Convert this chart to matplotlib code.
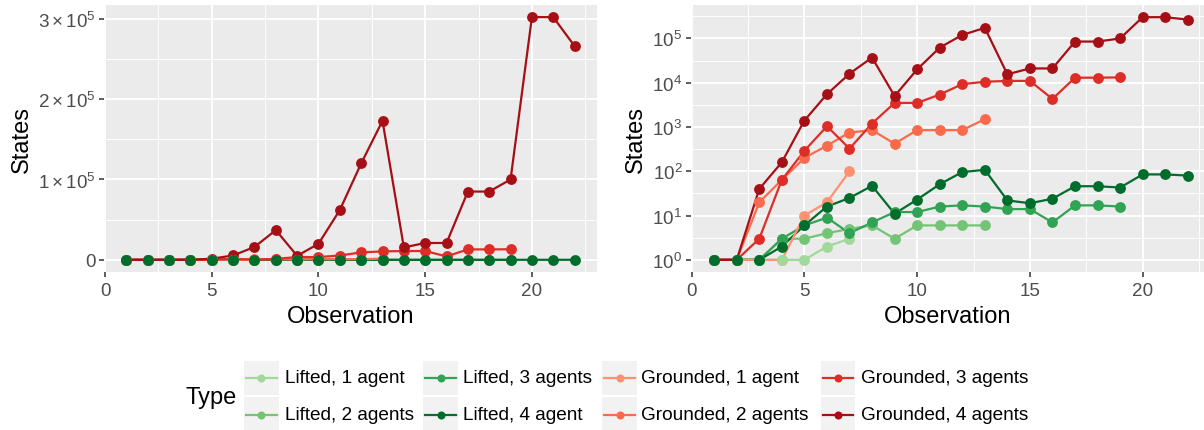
import numpy as np
import matplotlib
matplotlib.use("Agg")
import matplotlib.pyplot as plt
from matplotlib.lines import Line2D
from matplotlib.patches import Rectangle
from matplotlib.ticker import FixedLocator, FixedFormatter

plt.rcParams["font.family"] = ["Liberation Sans", "DejaVu Sans"]
plt.rcParams["mathtext.fontset"] = "custom"
plt.rcParams["mathtext.rm"] = "Liberation Sans"
plt.rcParams["mathtext.it"] = "Liberation Sans:italic"
plt.rcParams["mathtext.bf"] = "Liberation Sans:bold"

# ── Data ───────────────────────────────────────────────────────────────────────
labels = ["Lifted, 1 agent", "Lifted, 2 agents", "Lifted, 3 agents", "Lifted, 4 agent",
          "Grounded, 1 agent", "Grounded, 2 agents", "Grounded, 3 agents", "Grounded, 4 agents"]
colors = ["#A1D99B", "#74C476", "#31A354", "#006D2C",
          "#FC9272", "#FB6A4A", "#DE2D26", "#A50F15"]

lifted_1 = [1, 1, 1, 1, 1, 2, 3]
lifted_2 = [1, 1, 1, 3, 3, 4, 5, 6, 3, 6, 6, 6, 6]
lifted_3 = [1, 1, 1, 3, 6, 9, 4, 7, 12, 12, 16, 17, 16, 14, 14, 7, 17, 17, 16]
lifted_4 = [1, 1, 1, 2, 6, 16, 25, 47, 11, 23, 51, 96, 108, 22, 19, 24, 46, 46, 43, 85, 85, 80]
grounded_1 = [1, 1, 1, 1, 10, 20, 100]
grounded_2 = [1, 1, 20, 64, 200, 380, 750, 850, 420, 850, 850, 850, 1500]
grounded_3 = [1, 1, 3, 64, 290, 1040, 325, 1200, 3500, 3500, 5400, 9300, 10500,
              11000, 11000, 4300, 13000, 13000, 13200]
grounded_4 = [1, 1, 40, 160, 1400, 5500, 16000, 37000, 5000, 20000, 62000, 120000,
              173000, 15500, 21000, 21000, 85000, 85000, 100000, 302000, 302000, 266000]

series = [lifted_1, lifted_2, lifted_3, lifted_4,
          grounded_1, grounded_2, grounded_3, grounded_4]

W, H = 1204, 431
BG = "#EBEBEB"


def px_axes(fig, x0, y0, x1, y1):
    """Axes from pixel box (y measured from top)."""
    return fig.add_axes([x0 / W, 1 - y1 / H, (x1 - x0) / W, (y1 - y0) / H])


def style_axes(ax):
    ax.set_facecolor(BG)
    for s in ax.spines.values():
        s.set_visible(False)
    ax.grid(which="major", color="white", linewidth=1.3)
    ax.grid(which="minor", color="white", linewidth=0.65)
    ax.set_axisbelow(True)
    ax.tick_params(which="major", length=3.3, width=1.1, color="#333333",
                   labelsize=13.6, labelcolor="#4D4D4D", pad=2.5)
    ax.tick_params(axis="x", which="major", pad=3.8)
    ax.tick_params(which="minor", length=0)
    ax.set_xlabel("Observation", fontsize=17, labelpad=4.5)
    ax.set_ylabel("States", fontsize=17, labelpad=4)
    ax.xaxis.set_major_locator(FixedLocator([0, 5, 10, 15, 20]))
    ax.xaxis.set_minor_locator(FixedLocator([2.5, 7.5, 12.5, 17.5, 22.5]))


def draw_series(ax):
    # lines first (lifted then grounded), points after (grounded then lifted)
    for i, (vals, c) in enumerate(zip(series, colors)):
        x = np.arange(1, len(vals) + 1)
        ax.plot(x, vals, color=c, linewidth=1.6, zorder=2 + i * 0.01)
    order = [4, 5, 6, 7, 0, 1, 2, 3]
    for k, i in enumerate(order):
        vals = series[i]
        x = np.arange(1, len(vals) + 1)
        ax.plot(x, vals, linestyle="none", marker="o", markersize=7.8,
                markerfacecolor=colors[i], markeredgewidth=0, zorder=3 + k * 0.01)


fig = plt.figure(figsize=(W / 100, H / 100), dpi=100)

# ── Left: linear scale ─────────────────────────────────────────────────────────
ax1 = px_axes(fig, 104, 6, 597, 273)
style_axes(ax1)
draw_series(ax1)
ax1.set_xlim(-0.05, 23.05)
ax1.set_ylim(-15100, 317100)
ax1.yaxis.set_major_locator(FixedLocator([0, 1e5, 2e5, 3e5]))
ax1.yaxis.set_major_formatter(FixedFormatter(
    ["0", r"$1\times10^5$", r"$2\times10^5$", r"$3\times10^5$"]))
ax1.yaxis.set_minor_locator(FixedLocator([0.5e5, 1.5e5, 2.5e5]))

# ── Right: log scale ───────────────────────────────────────────────────────────
ax2 = px_axes(fig, 690.5, 6, 1204, 273)
style_axes(ax2)
draw_series(ax2)
ax2.set_yscale("log")
ax2.set_xlim(-0.05, 22.72)
ax2.set_ylim(10 ** -0.274, 10 ** 5.755)
ax2.yaxis.set_major_locator(FixedLocator([10.0 ** k for k in range(6)]))
ax2.yaxis.set_major_formatter(FixedFormatter([rf"$10^{k}$" for k in range(6)]))
ax2.yaxis.set_minor_locator(FixedLocator([10 ** (k + 0.5) for k in range(6)]))

# ── Legend (drawn by hand, ggplot style) ───────────────────────────────────────
lg = fig.add_axes([0, 0, 1, 1])
lg.set_xlim(0, W)
lg.set_ylim(H, 0)
lg.axis("off")

lg.text(185, 398, "Type", fontsize=17, va="center", ha="left")
key_x = [244, 423.3, 602.3, 820.7]
text_x = [285, 463.3, 641, 860.7]
row_y = [361.7, 398.3]
key_w, key_h = 34.6, 34.6
for i, (lab, c) in enumerate(zip(labels, colors)):
    col, row = i // 2, i % 2
    x0, y0 = key_x[col], row_y[row]
    lg.add_patch(Rectangle((x0, y0), key_w, key_h, facecolor="#F2F2F2", edgecolor="none"))
    yc = y0 + key_h / 2
    lg.add_line(Line2D([x0 + 2, x0 + key_w - 2], [yc, yc], color=c, linewidth=1.6))
    lg.plot([x0 + key_w / 2], [yc], marker="o", markersize=5.8, color=c,
            markeredgewidth=0)
    lg.text(text_x[col], yc, lab, fontsize=13.7, va="center", ha="left")

fig.savefig("out.png", dpi=100)
